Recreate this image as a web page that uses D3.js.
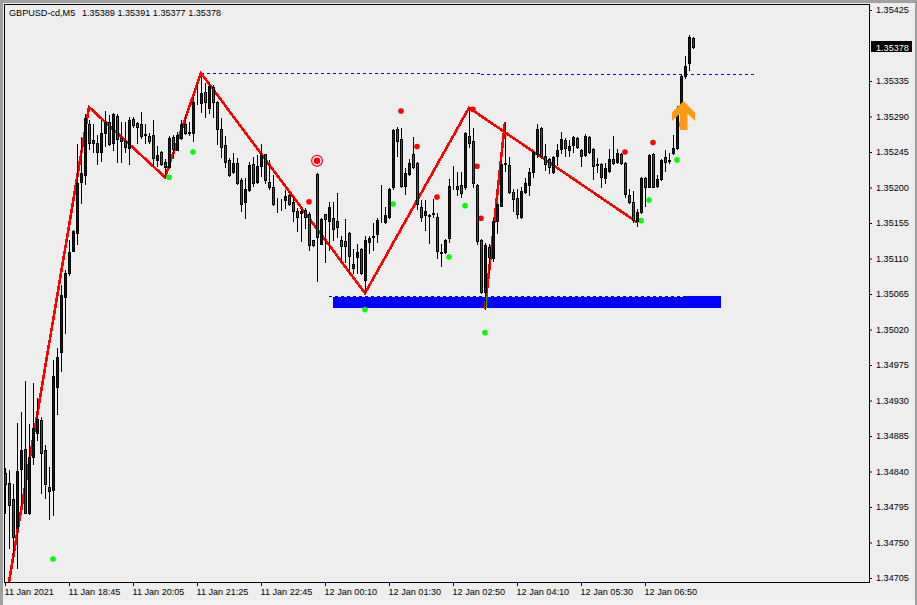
<!DOCTYPE html>
<html lang="en">
<head>
<meta charset="UTF-8">
<title>GBPUSD-cd,M5</title>
<script src="https://d3js.org/d3.v7.min.js"></script>
<style>
  html, body { margin: 0; padding: 0; background: #eeeeee; overflow: hidden; }
  svg { display: block; }
  text { font-family: "Liberation Sans", sans-serif; font-size: 9.1px; fill: #000; }
</style>
</head>
<body>
<svg width="917" height="605"></svg>
<script>
const symbolName = "GBPUSD-cd,M5";
const timeLabels = ["11 Jan 2021","11 Jan 18:45","11 Jan 20:05","11 Jan 21:25","11 Jan 22:45","12 Jan 00:10","12 Jan 01:30","12 Jan 02:50","12 Jan 04:10","12 Jan 05:30","12 Jan 06:50"];
const timeTickBars = [0,16,32,48,64,80,96,112,128,144,160];
const priceTicks = [1.35425,1.35335,1.35290,1.35245,1.35200,1.35155,1.35110,1.35065,1.35020,1.34975,1.34930,1.34885,1.34840,1.34795,1.34750,1.34705];

const opens = [
1.34838,1.34826,1.34805,1.34768,1.34843,1.34869,1.34787,1.34859,1.34889,1.34905,
1.34867,1.34820,1.34816,1.34947,1.34991,1.35061,1.35092,1.35120,1.35142,1.35207,
1.35216,1.35280,1.35260,1.35256,1.35245,1.35269,1.35283,1.35257,1.35290,1.35263,
1.35259,1.35250,1.35287,1.35282,1.35280,1.35268,1.35265,1.35267,1.35235,1.35245,
1.35232,1.35226,1.35264,1.35248,1.35263,1.35280,1.35270,1.35269,1.35308,1.35307,
1.35321,1.35301,1.35327,1.35308,1.35274,1.35254,1.35235,1.35220,1.35231,1.35209,
1.35181,1.35197,1.35230,1.35207,1.35227,1.35243,1.35207,1.35201,1.35182,1.35181,
1.35184,1.35191,1.35181,1.35170,1.35168,1.35171,1.35166,1.35133,1.35217,1.35129,
1.35166,1.35158,1.35161,1.35158,1.35134,1.35132,1.35142,1.35098,1.35112,1.35122,
1.35083,1.35131,1.35137,1.35141,1.35158,1.35156,1.35162,1.35200,1.35274,1.35261,
1.35202,1.35217,1.35243,1.35231,1.35175,1.35165,1.35165,1.35168,1.35163,1.35118,
1.35118,1.35136,1.35200,1.35202,1.35203,1.35201,1.35265,1.35259,1.35203,1.35134,
1.35068,1.35124,1.35111,1.35158,1.35177,1.35231,1.35229,1.35194,1.35187,1.35163,
1.35194,1.35203,1.35220,1.35243,1.35276,1.35240,1.35236,1.35220,1.35240,1.35249,
1.35260,1.35248,1.35254,1.35263,1.35248,1.35241,1.35264,1.35249,1.35230,1.35230,
1.35212,1.35221,1.35236,1.35232,1.35243,1.35231,1.35191,1.35181,1.35158,1.35169,
1.35212,1.35201,1.35243,1.35202,1.35211,1.35239,1.35235,1.35244,1.35250,1.35302,
1.35341,1.35358,1.35389];
const highs = [
1.34845,1.34842,1.34824,1.34902,1.34915,1.34955,1.34900,1.34952,1.34933,1.34909,
1.34874,1.34846,1.34981,1.34996,1.35077,1.35095,1.35133,1.35146,1.35255,1.35264,
1.35293,1.35286,1.35280,1.35267,1.35286,1.35297,1.35292,1.35294,1.35293,1.35283,
1.35283,1.35289,1.35289,1.35283,1.35296,1.35280,1.35269,1.35286,1.35252,1.35246,
1.35236,1.35265,1.35267,1.35270,1.35286,1.35292,1.35283,1.35315,1.35332,1.35343,
1.35333,1.35332,1.35330,1.35310,1.35288,1.35265,1.35238,1.35244,1.35238,1.35212,
1.35212,1.35232,1.35239,1.35241,1.35255,1.35243,1.35235,1.35216,1.35187,1.35186,
1.35197,1.35192,1.35187,1.35174,1.35175,1.35174,1.35169,1.35134,1.35218,1.35161,
1.35167,1.35182,1.35182,1.35193,1.35138,1.35160,1.35143,1.35122,1.35128,1.35123,
1.35138,1.35139,1.35155,1.35161,1.35203,1.35175,1.35199,1.35274,1.35277,1.35276,
1.35225,1.35236,1.35264,1.35232,1.35184,1.35184,1.35166,1.35186,1.35168,1.35129,
1.35135,1.35211,1.35227,1.35220,1.35220,1.35270,1.35302,1.35276,1.35204,1.35135,
1.35130,1.35128,1.35161,1.35180,1.35235,1.35283,1.35239,1.35198,1.35198,1.35200,
1.35212,1.35225,1.35246,1.35280,1.35277,1.35255,1.35237,1.35240,1.35255,1.35270,
1.35263,1.35260,1.35265,1.35264,1.35249,1.35268,1.35265,1.35250,1.35238,1.35231,
1.35231,1.35249,1.35265,1.35249,1.35244,1.35232,1.35198,1.35196,1.35173,1.35213,
1.35213,1.35243,1.35244,1.35216,1.35236,1.35247,1.35244,1.35267,1.35303,1.35342,
1.35367,1.35393,1.35391];
const lows = [
1.34788,1.34743,1.34730,1.34718,1.34798,1.34787,1.34786,1.34850,1.34880,1.34813,
1.34807,1.34780,1.34785,1.34913,1.34968,1.35016,1.35089,1.35119,1.35129,1.35180,
1.35204,1.35249,1.35245,1.35230,1.35234,1.35252,1.35254,1.35248,1.35232,1.35232,
1.35245,1.35230,1.35277,1.35256,1.35263,1.35257,1.35257,1.35227,1.35227,1.35229,
1.35213,1.35225,1.35238,1.35247,1.35262,1.35268,1.35267,1.35259,1.35306,1.35296,
1.35289,1.35295,1.35289,1.35255,1.35239,1.35226,1.35215,1.35219,1.35204,1.35170,
1.35161,1.35196,1.35202,1.35206,1.35214,1.35206,1.35198,1.35178,1.35169,1.35171,
1.35174,1.35178,1.35158,1.35145,1.35132,1.35149,1.35121,1.35126,1.35082,1.35128,
1.35106,1.35121,1.35133,1.35137,1.35106,1.35105,1.35092,1.35091,1.35091,1.35090,
1.35066,1.35117,1.35121,1.35131,1.35156,1.35155,1.35161,1.35198,1.35240,1.35200,
1.35192,1.35216,1.35225,1.35173,1.35158,1.35146,1.35130,1.35162,1.35111,1.35100,
1.35117,1.35131,1.35198,1.35191,1.35188,1.35198,1.35251,1.35201,1.35128,1.35066,
1.35046,1.35092,1.35107,1.35142,1.35176,1.35221,1.35193,1.35170,1.35161,1.35161,
1.35193,1.35191,1.35213,1.35239,1.35238,1.35222,1.35218,1.35218,1.35229,1.35244,
1.35240,1.35240,1.35245,1.35250,1.35227,1.35240,1.35244,1.35211,1.35220,1.35200,
1.35206,1.35220,1.35230,1.35231,1.35230,1.35188,1.35180,1.35156,1.35151,1.35168,
1.35177,1.35200,1.35200,1.35200,1.35210,1.35221,1.35231,1.35243,1.35249,1.35301,
1.35339,1.35349,1.35377];
const closes = [
1.34824,1.34798,1.34757,1.34841,1.34867,1.34788,1.34858,1.34895,1.34907,1.34864,
1.34824,1.34815,1.34961,1.34985,1.35064,1.35091,1.35118,1.35145,1.35206,1.35218,
1.35288,1.35257,1.35257,1.35245,1.35269,1.35283,1.35255,1.35293,1.35261,1.35259,
1.35251,1.35286,1.35279,1.35277,1.35265,1.35267,1.35259,1.35238,1.35241,1.35230,
1.35226,1.35263,1.35249,1.35267,1.35280,1.35269,1.35269,1.35308,1.35309,1.35320,
1.35308,1.35329,1.35308,1.35274,1.35251,1.35232,1.35216,1.35231,1.35206,1.35179,
1.35198,1.35229,1.35206,1.35227,1.35241,1.35209,1.35200,1.35179,1.35181,1.35182,
1.35189,1.35179,1.35170,1.35163,1.35170,1.35162,1.35127,1.35127,1.35137,1.35160,
1.35160,1.35175,1.35147,1.35150,1.35126,1.35126,1.35113,1.35103,1.35118,1.35091,
1.35133,1.35136,1.35138,1.35159,1.35157,1.35165,1.35198,1.35273,1.35259,1.35202,
1.35218,1.35231,1.35226,1.35179,1.35163,1.35170,1.35164,1.35167,1.35120,1.35117,
1.35134,1.35202,1.35201,1.35198,1.35193,1.35269,1.35256,1.35206,1.35132,1.35068,
1.35127,1.35112,1.35158,1.35179,1.35230,1.35230,1.35194,1.35185,1.35166,1.35196,
1.35206,1.35220,1.35245,1.35274,1.35240,1.35230,1.35226,1.35239,1.35248,1.35261,
1.35250,1.35252,1.35264,1.35251,1.35240,1.35265,1.35245,1.35227,1.35229,1.35213,
1.35225,1.35236,1.35231,1.35244,1.35231,1.35192,1.35181,1.35159,1.35169,1.35212,
1.35200,1.35241,1.35201,1.35211,1.35235,1.35232,1.35234,1.35250,1.35295,1.35341,
1.35354,1.35391,1.35378];

// zigzag indicator: [bar, price]
const zigzagMain = [[1,1.34700],[21,1.35302],[40,1.35213],[49,1.35345],[90,1.35066],[116,1.35301],[158,1.35156]];
const zigzagSpike = [[120,1.35046],[125,1.35283]];
// signal dots: [bar, price]
const greenDots = [[12,1.34729],[41,1.35213],[47,1.35245],[90,1.35045],[97,1.35179],[111,1.35112],[115,1.35177],[120,1.35016],[159,1.35158],[161,1.35184],[168,1.35235],[169,1.35280]];
const redDots = [[76,1.35182],[99,1.35297],[103,1.35252],[108,1.35188],[118,1.35227],[119,1.35161],[117,1.35299],[155,1.35245],[162,1.35257]];
const targetMark = [78,1.35234];
// horizontal levels: [from bar, to bar, price]
const highLevels = [[49,119,1.35345],[119,188,1.35344]];
const lowLevel = [81,170,1.35063];
const zoneBars = [82,179];
const zonePrices = [1.35063,1.35047];
const spikeTail = [120,1.35062,1.35047];
const arrowAnchor = [170,1.35273];

let svg = d3.select("svg");
let x = d3.scaleLinear().domain([0,172]).range([5,693]);
let y = d3.scaleLinear().domain([1.34705,1.35425]).range([578,10]);
let py = v => Math.round(y(v));

// window edge
svg.append("rect").attr("width",917).attr("height",3).attr("fill","#a0a0a0");
svg.append("rect").attr("width",3).attr("height",605).attr("fill","#a0a0a0");
svg.append("rect").attr("x",915).attr("width",2).attr("height",605).attr("fill","#a0a0a0");
svg.append("rect").attr("x",3).attr("y",600).attr("width",912).attr("height",5).attr("fill","#f4f4f4");

// zone + levels
svg.append("rect")
  .attr("x",x(zoneBars[0])).attr("y",py(zonePrices[0]))
  .attr("width",x(zoneBars[1])-x(zoneBars[0])).attr("height",py(zonePrices[1])-py(zonePrices[0]))
  .attr("fill","#0000ff");
svg.append("line")
  .attr("x1",x(lowLevel[0])).attr("x2",x(lowLevel[1]))
  .attr("y1",py(lowLevel[2])+.5).attr("y2",py(lowLevel[2])+.5)
  .attr("stroke","#eeeeee");
svg.append("line")
  .attr("x1",x(lowLevel[0])).attr("x2",x(lowLevel[1]))
  .attr("y1",py(lowLevel[2])+.5).attr("y2",py(lowLevel[2])+.5)
  .attr("stroke","#0000ff").attr("stroke-dasharray","3,3");
svg.selectAll(".level").data(highLevels).enter().append("line")
  .attr("x1",d=>x(d[0])).attr("x2",d=>x(d[1]))
  .attr("y1",d=>py(d[2])+.5).attr("y2",d=>py(d[2])+.5)
  .attr("stroke","#0000ff").attr("stroke-dasharray","3,3");

// zigzag
let zz = d3.line().x(d=>x(d[0])).y(d=>y(d[1]));
svg.selectAll(".zz").data([zigzagMain,zigzagSpike]).enter().append("path")
  .attr("d",zz).attr("fill","none").attr("stroke","#ff0000").attr("stroke-width",2.6)
  .attr("shape-rendering","crispEdges");

// dots
svg.selectAll(".gd").data(greenDots).enter().append("circle")
  .attr("cx",d=>x(d[0])).attr("cy",d=>y(d[1])).attr("r",2.8).attr("fill","#00ff00");
svg.selectAll(".rd").data(redDots).enter().append("circle")
  .attr("cx",d=>x(d[0])).attr("cy",d=>y(d[1])).attr("r",2.8).attr("fill","#ff0000");
svg.append("circle").attr("cx",x(targetMark[0])).attr("cy",y(targetMark[1])).attr("r",5.4)
  .attr("fill","#fff").attr("stroke","#f01030").attr("stroke-width",1.3);
svg.append("circle").attr("cx",x(targetMark[0])).attr("cy",y(targetMark[1])).attr("r",3.3).attr("fill","#ff0000");

// candles
let bars = svg.selectAll(".bar").data(d3.range(opens.length)).enter().append("g")
  .attr("transform",i=>`translate(${x(i)},0)`);
bars.append("line")
  .attr("x1",.5).attr("x2",.5)
  .attr("y1",i=>py(highs[i])).attr("y2",i=>py(lows[i])+1)
  .attr("stroke","#000");
bars.append("rect")
  .attr("x",-.5).attr("width",2)
  .attr("y",i=>py(Math.max(opens[i],closes[i]))+.5)
  .attr("height",i=>py(Math.min(opens[i],closes[i]))-py(Math.max(opens[i],closes[i])))
  .attr("fill",i=>closes[i]>=opens[i]?"#0000e0":"#e01010")
  .attr("stroke","#000");

svg.append("line")
  .attr("x1",x(spikeTail[0])+1.5).attr("x2",x(spikeTail[0])+1.5)
  .attr("y1",py(spikeTail[1])).attr("y2",py(spikeTail[2]))
  .attr("stroke","#00c000");

// up arrow
svg.append("path")
  .attr("transform",`translate(${x(arrowAnchor[0])-1.5},${y(arrowAnchor[1])})`)
  .attr("d","M0,-29L11.5,-17.5L11.5,-9L4,-16.5L4,0L-3.5,0L-3.5,-16.5L-11.5,-9L-11.5,-17.5Z")
  .attr("fill","#ff9912");

// frame + axes
svg.append("rect").attr("x",4.5).attr("y",4.5).attr("width",865).attr("height",578)
  .attr("fill","none").attr("stroke","#000");

let xAxis = d3.axisBottom(x).tickValues(timeTickBars).tickSize(4).tickFormat((d,i)=>timeLabels[i]);
let gx = svg.append("g").attr("transform","translate(0,582)").call(xAxis);
gx.select(".domain").remove();
gx.selectAll("text").attr("text-anchor","start").attr("x",-1).attr("y",6).attr("dy",".72em");
gx.selectAll("line").attr("stroke","#000");
gx.attr("font-family",null).attr("font-size",null);

let yAxis = d3.axisRight(y).tickValues(priceTicks).tickSize(3).tickFormat(d3.format(".5f"));
let gy = svg.append("g").attr("transform","translate(869,0)").call(yAxis);
gy.select(".domain").remove();
gy.selectAll("text").attr("x",7);
gy.attr("font-family",null).attr("font-size",null);

// header + current price
let last = opens.length-1;
svg.append("text").attr("x",9).attr("y",16).text(symbolName);
svg.append("text").attr("x",82).attr("y",16)
  .text([opens[last],highs[last],lows[last],closes[last]].map(d3.format(".5f")).join(" "));
svg.append("rect").attr("x",871).attr("y",py(closes[last])-6).attr("width",41).attr("height",11).attr("fill","#000");
svg.append("text").attr("x",876).attr("y",py(closes[last])+3.5).style("fill","#fff").text(d3.format(".5f")(closes[last]));
</script>
</body>
</html>
